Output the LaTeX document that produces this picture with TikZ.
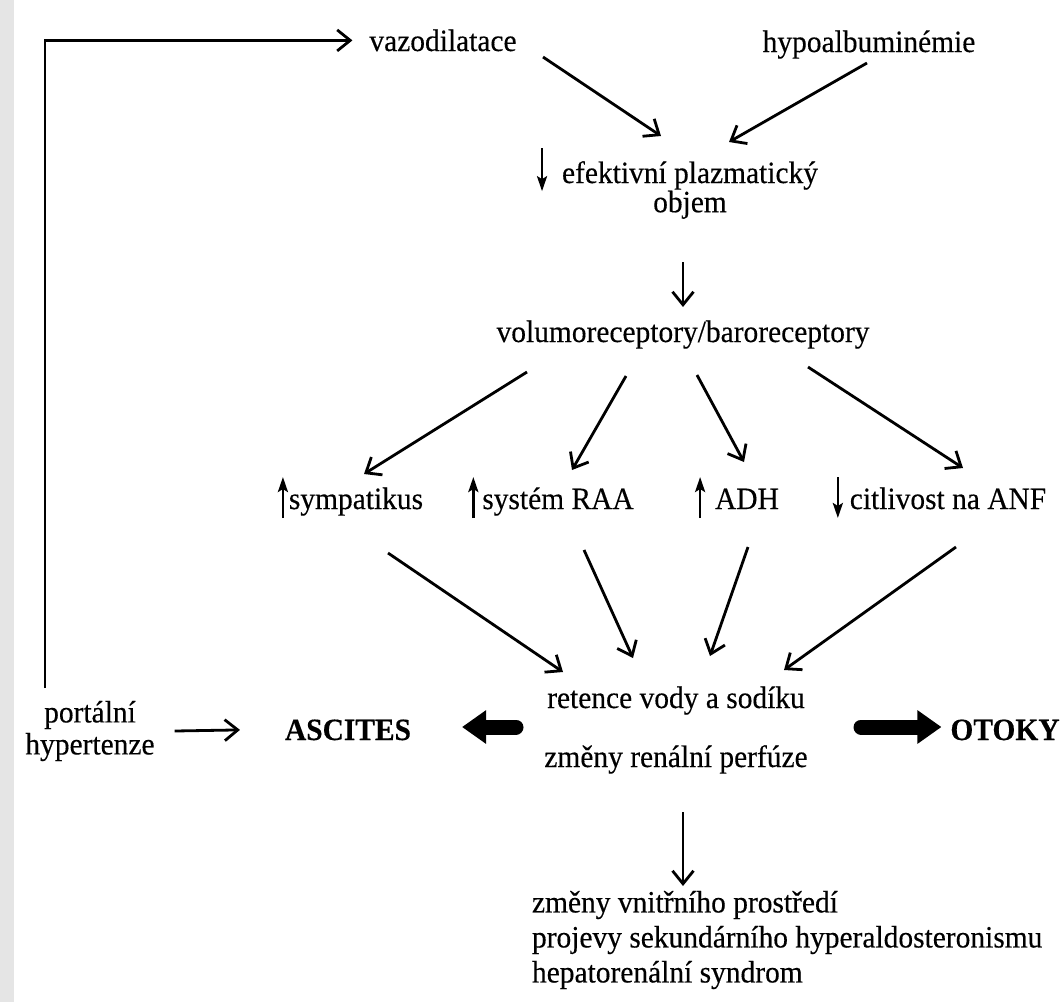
\documentclass[tikz,border=0pt]{standalone}
\usepackage{fontspec}
\setmainfont{Liberation Serif}[FakeStretch=0.95, FakeBold=0.3]
\usetikzlibrary{arrows.meta}
\begin{document}
\begin{tikzpicture}[x=1pt,y=-1pt,
  lbl/.style={inner sep=0pt, outer sep=0pt, font=\fontsize{31}{35}\selectfont},
  blbl/.style={inner sep=0pt, outer sep=0pt, font=\fontsize{31}{35}\selectfont\bfseries},
  conn/.style={line width=2.8pt, -{Straight Barb[length=13pt,width=21pt]}},
  mini/.style={line width=2.6pt, -{Stealth[length=15pt,width=10pt,inset=3pt]}},
  fat/.style={line width=15pt, line cap=round, -{Triangle[length=24pt,width=32pt]}}]
\useasboundingbox (0,0) rectangle (1064,1002);
\fill[white] (0,0) rectangle (1064,1002);
\fill[black!10] (0,0) rectangle (14,1002);

% nodes
\node[lbl, anchor=base] (vaz) at (443,51) {vazodilatace};
\node[lbl, anchor=base] (hypo) at (869,52) {hypoalbuminémie};
\node[lbl, align=center, font=\fontsize{31}{27}\selectfont] (efp) at (690,190) {efektivní plazmatický\\objem};
\node[lbl, anchor=base] (vol) at (683,342) {volumoreceptory/baroreceptory};
\node[lbl, anchor=base] (sym) at (356,509) {sympatikus};
\node[lbl, anchor=base] (raa) at (558,509) {systém RAA};
\node[lbl, anchor=base] (adh) at (747,509) {ADH};
\node[lbl, anchor=base] (anf) at (948,509) {citlivost na ANF};
\node[lbl, anchor=base] (ret) at (676,708) {retence vody a sodíku};
\node[lbl, anchor=base] (ren) at (676,767) {změny renální perfúze};
\node[blbl, anchor=base] (asc) at (348,740) {ASCITES};
\node[blbl, anchor=base] (oto) at (1005,740) {OTOKY};
\node[lbl, align=center, font=\fontsize{31}{32}\selectfont] (port) at (90,731) {portální\\hypertenze};
\node[lbl, align=left, anchor=west, font=\fontsize{31}{35}\selectfont] (out) at (532,940)
  {změny vnitřního prostředí\\projevy sekundárního hyperaldosteronismu\\hepatorenální syndrom};

% free ends of connectors
\coordinate (lbot) at (45,688);
\coordinate (v1) at (543,57);   \coordinate (e1) at (661,136);
\coordinate (h1) at (867,63);   \coordinate (e2) at (729,142);
\coordinate (o1) at (683,262);  \coordinate (vt) at (683,307);
\coordinate (b1s) at (527,372); \coordinate (b1e) at (364,474);
\coordinate (b2s) at (626,376); \coordinate (b2e) at (572,470);
\coordinate (b3s) at (697,375); \coordinate (b3e) at (744,462);
\coordinate (b4s) at (808,367); \coordinate (b4e) at (963,468);
\coordinate (c1s) at (388,553); \coordinate (c1e) at (563,672);
\coordinate (c2s) at (584,550); \coordinate (c2e) at (633,658);
\coordinate (c3s) at (748,547); \coordinate (c3e) at (710,656);
\coordinate (c4s) at (956,547); \coordinate (c4e) at (784,670);
\coordinate (fl) at (516,727);
\coordinate (fr) at (861,727);
\coordinate (d1) at (683,812);  \coordinate (d2) at (683,886);

% connectors
\draw[conn, shorten >=17pt] (lbot) |- (vaz.west);
\draw[conn] (v1) -- (e1);
\draw[conn] (h1) -- (e2);
\draw[conn] (o1) -- (vt);
\draw[conn] (b1s) -- (b1e);
\draw[conn] (b2s) -- (b2e);
\draw[conn] (b3s) -- (b3e);
\draw[conn] (b4s) -- (b4e);
\draw[conn] (c1s) -- (c1e);
\draw[conn] (c2s) -- (c2e);
\draw[conn] (c3s) -- (c3e);
\draw[conn] (c4s) -- (c4e);
\draw[conn] ([xshift=20pt]port.east) -- ([xshift=-45pt]asc.west);
\draw[fat, shorten >=51pt] (fl) -- (fl -| asc.east);
\draw[fat, shorten >=9pt] (fr) -- (fr -| oto.west);
\draw[conn] (d1) -- (d2);

% small up/down arrows in labels
\draw[mini] ([xshift=-20pt,yshift=13pt]efp.north west) -- ([xshift=-20pt,yshift=-30pt]efp.north west);
\draw[mini] ([xshift=-6pt,yshift=-9pt]sym.base west) -- ([xshift=-6pt,yshift=32pt]sym.base west);
\draw[mini] ([xshift=-9pt,yshift=-9pt]raa.base west) -- ([xshift=-9pt,yshift=32pt]raa.base west);
\draw[mini] ([xshift=-15pt,yshift=-9pt]adh.base west) -- ([xshift=-15pt,yshift=32pt]adh.base west);
\draw[mini] ([xshift=-12pt,yshift=32pt]anf.base west) -- ([xshift=-12pt,yshift=-9pt]anf.base west);
\end{tikzpicture}
\end{document}
